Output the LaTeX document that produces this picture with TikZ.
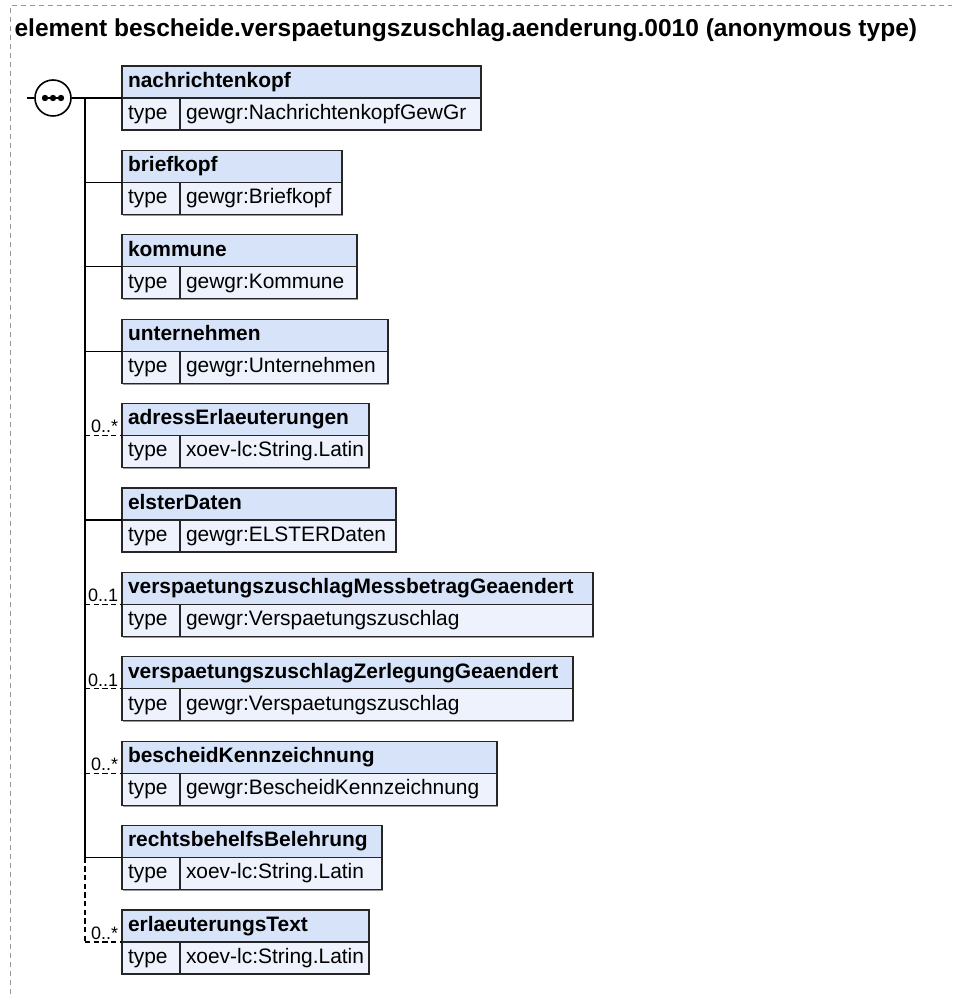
\documentclass[tikz,border=0pt]{standalone}
\usepackage{fontspec}
\setmainfont{Liberation Sans}
\usetikzlibrary{positioning,shadows}
\definecolor{headfill}{RGB}{214,227,248}
\definecolor{rowfill}{RGB}{237,242,252}
\definecolor{framegray}{RGB}{150,150,150}
\newcommand\elfont{\fontsize{15.7}{18}\selectfont}
\tikzset{
schema/.style={x=0.75pt,y=-0.75pt,line width=0.85pt,font=\elfont},
cell/.style={draw=black!85,anchor=north west,outer sep=0pt,inner xsep=4.5pt,
inner ysep=0pt,minimum height=24pt,text height=11.5pt,text depth=3.5pt,align=left,
drop shadow={shadow xshift=1.1pt,shadow yshift=-1.1pt,opacity=1,fill=black!40}},
elhead/.style={cell,fill=headfill,font=\elfont\bfseries},
elrow/.style={cell,fill=rowfill},
seq/.style={circle,draw,fill=white,minimum size=27pt,line width=1.2pt},
optional/.style={dash pattern=on 4pt off 2.5pt},
mult/.style={anchor=base east,inner sep=0pt,xshift=-2.5pt,yshift=2pt,
font=\fontsize{13.5}{15}\selectfont},
}
\begin{document}
\begin{tikzpicture}[schema]
\useasboundingbox (0,0) rectangle (952,994);
\draw[framegray,dash pattern=on 3.75pt off 3pt,line width=0.75pt] (10,994) -- (10,6) -- (952,6);
\node[anchor=base west,inner sep=0pt,font=\bfseries\fontsize{18.4}{22}\selectfont] (title) at (14,37)
  {element bescheide.verspaetungszuschlag.aenderung.0010 (anonymous type)};

% elements of the sequence
\foreach \i/\nm/\rx/\tp/\ln in {
  1/nachrichtenkopf/481/gewgr:NachrichtenkopfGewGr/solid,
  2/briefkopf/342/gewgr:Briefkopf/solid,
  3/kommune/357/gewgr:Kommune/solid,
  4/unternehmen/388/gewgr:Unternehmen/solid,
  5/adressErlaeuterungen/369/xoev-lc:String.Latin/optional,
  6/elsterDaten/396/gewgr:ELSTERDaten/solid,
  7/verspaetungszuschlagMessbetragGeaendert/593/gewgr:Verspaetungszuschlag/optional,
  8/verspaetungszuschlagZerlegungGeaendert/573/gewgr:Verspaetungszuschlag/optional,
  9/bescheidKennzeichnung/497/gewgr:BescheidKennzeichnung/optional,
  10/rechtsbehelfsBelehrung/382/xoev-lc:String.Latin/solid,
  11/erlaeuterungsText/369/xoev-lc:String.Latin/optional}{
  \pgfmathsetmacro\ytop{66+84.4*(\i-1)}
  \pgfmathsetmacro\hw{(\rx-134)*0.75}
  \pgfmathsetmacro\vw{(\rx-192)*0.75}
  \node[elhead,text width=\hw pt] (h\i) at (122,\ytop) {\mbox{\nm}};
  \node[elrow,text width=34.5pt] (t\i) at (h\i.south west) {\mbox{type}};
  \node[elrow,text width=\vw pt] (v\i) at (t\i.north east) {\mbox{\tp}};
  \coordinate (j\i) at (85,\ytop+32);
  \draw[\ln] (j\i) -- (h\i.south west);
}

\node[mult] (m5) at (h5.south west) {0..*};
\node[mult] (m7) at (h7.south west) {0..1};
\node[mult] (m8) at (h8.south west) {0..1};
\node[mult] (m9) at (h9.south west) {0..*};
\node[mult] (m11) at (h11.south west) {0..*};

% sequence compositor
\coordinate (in) at (27,98);
\node[seq] (seq) at (53,98) {};
\draw (in) -- (seq);
\draw (seq) -- (j1);
\draw (seq.center) ++(-10,0) -- ++(20,0);
\foreach \dx in {-8,0,8}
  \fill (seq.center) ++(\dx,0) circle (3.2);
\draw (j1) -- (j10);
\draw[optional] (j10) -- (j11);
\end{tikzpicture}
\end{document}
